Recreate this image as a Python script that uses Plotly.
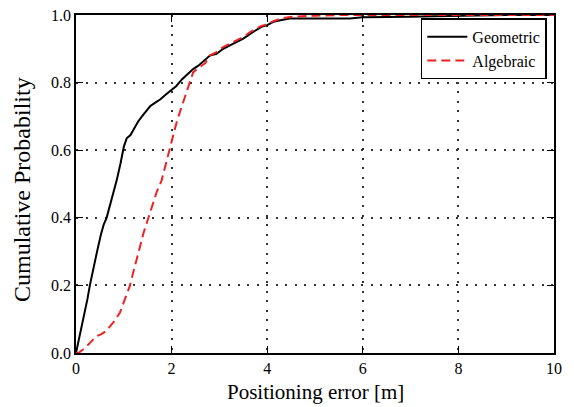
import plotly.graph_objects as go

geo_x = [0.0, 0.04, 0.08, 0.13, 0.19, 0.24, 0.29, 0.36, 0.44, 0.52, 0.58, 0.64, 0.70, 0.76, 0.85, 0.93, 1.0, 1.06, 1.14, 1.22, 1.30, 1.38, 1.46, 1.55, 1.65, 1.76, 1.88, 2.0, 2.10, 2.22, 2.34, 2.45, 2.56, 2.68, 2.80, 2.94, 3.08, 3.22, 3.36, 3.50, 3.65, 3.78, 3.88, 4.0, 4.13, 4.3, 4.5, 4.69, 5.0, 5.4, 5.73, 6.0, 6.5, 7.0, 7.5, 8.0, 8.5, 9.0, 10.0]
geo_y = [0.0, 0.025, 0.05, 0.09, 0.12, 0.16, 0.20, 0.25, 0.30, 0.35, 0.38, 0.40, 0.43, 0.46, 0.51, 0.56, 0.61, 0.635, 0.645, 0.665, 0.685, 0.70, 0.715, 0.73, 0.74, 0.75, 0.765, 0.78, 0.79, 0.81, 0.825, 0.84, 0.85, 0.865, 0.88, 0.885, 0.90, 0.91, 0.92, 0.93, 0.945, 0.955, 0.965, 0.97, 0.98, 0.985, 0.99, 0.99, 0.99, 0.99, 0.99, 0.993, 0.995, 0.995, 0.996, 0.998, 1.0, 1.0, 1.0]

alg_x = [0.0, 0.05, 0.19, 0.30, 0.43, 0.52, 0.61, 0.72, 0.82, 0.92, 1.03, 1.13, 1.20, 1.27, 1.34, 1.41, 1.51, 1.60, 1.69, 1.79, 1.86, 1.93, 2.02, 2.10, 2.19, 2.28, 2.36, 2.45, 2.58, 2.70, 2.80, 2.94, 3.08, 3.22, 3.36, 3.50, 3.65, 3.78, 3.88, 4.0, 4.13, 4.3, 4.55, 5.0, 5.5, 6.5, 8.0, 10.0]
alg_y = [0.0, 0.0, 0.015, 0.03, 0.05, 0.055, 0.063, 0.08, 0.098, 0.12, 0.16, 0.20, 0.24, 0.275, 0.315, 0.354, 0.40, 0.44, 0.477, 0.51, 0.55, 0.59, 0.635, 0.68, 0.72, 0.76, 0.795, 0.83, 0.845, 0.857, 0.88, 0.89, 0.905, 0.915, 0.925, 0.935, 0.95, 0.96, 0.968, 0.972, 0.982, 0.99, 0.995, 0.998, 1.0, 1.0, 1.0, 1.0]

x_ticks = [0, 2, 4, 6, 8, 10]
y_ticks = [0.0, 0.2, 0.4, 0.6, 0.8, 1.0]
x_title = "Positioning error [m]"
y_title = "Cumulative Probability"

fig = go.Figure()
fig.add_trace(go.Scatter(x=geo_x, y=geo_y, mode="lines", name="Geometric",
                         line=dict(color="black", width=2)))
fig.add_trace(go.Scatter(x=alg_x, y=alg_y, mode="lines", name="Algebraic",
                         line=dict(color="#ee2222", width=2, dash="9px,5px")))

font_family = "Liberation Serif"
axis_common = dict(
    showline=True, linecolor="black", linewidth=1.5, mirror="ticks",
    ticks="inside", ticklen=7, tickwidth=1.2, tickcolor="black",
    showgrid=True, gridcolor="#333333", griddash="2px,7.5px", gridwidth=1.5,
    zeroline=False, tickfont=dict(family=font_family, size=16, color="black"),
    automargin=False, ticklabeloverflow="allow",
)
fig.update_xaxes(range=[0, 10], tickvals=x_ticks, **axis_common)
fig.update_yaxes(range=[0, 1], tickvals=y_ticks, tickformat=".1f", **axis_common)

fig.add_annotation(text=x_title, xref="paper", yref="paper", x=0.5, y=0,
                   xanchor="center", yanchor="middle", yshift=-39, showarrow=False,
                   font=dict(family=font_family, size=21, color="black"))
fig.add_annotation(text=y_title, xref="paper", yref="paper", x=0, y=0.5,
                   xanchor="center", yanchor="middle", xshift=-54, yshift=-6,
                   textangle=-90, showarrow=False,
                   font=dict(family=font_family, size=24, color="black"))

fig.update_layout(
    width=574, height=407,
    margin=dict(l=76, r=20, t=15, b=54),
    paper_bgcolor="white", plot_bgcolor="white",
    font=dict(family=font_family, color="black"),
    legend=dict(x=0.985, y=0.99, xanchor="right", yanchor="top",
                bgcolor="white", bordercolor="black", borderwidth=1.5,
                font=dict(family=font_family, size=16, color="black"),
                itemwidth=40, tracegroupgap=0),
    showlegend=True,
)

fig.write_html("out.html", config={"displayModeBar": False},
               post_script="document.body.style.margin='0';")
